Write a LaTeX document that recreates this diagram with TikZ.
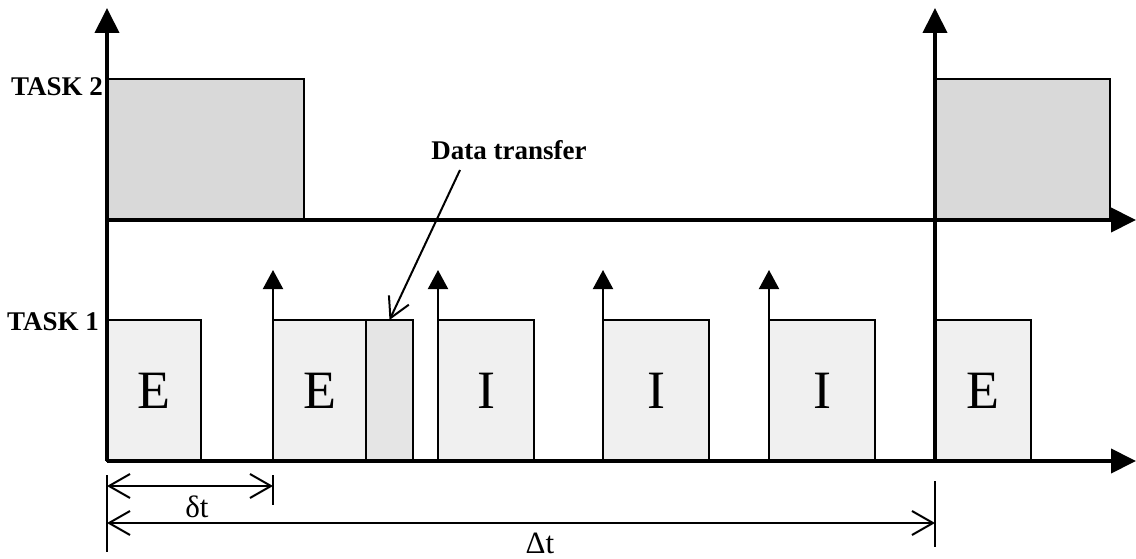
\documentclass[tikz,border=0pt]{standalone}
\usepackage{fontspec}
\setmainfont{Liberation Serif}
\usetikzlibrary{arrows.meta,positioning}
\definecolor{slotfill}{gray}{0.94}
\definecolor{xferfill}{gray}{0.90}
\definecolor{busyfill}{gray}{0.85}
\tikzset{axis/.style={line width=4pt,-{Triangle[width=24pt,length=25pt]}},
  pulse/.style={line width=2pt,-{Triangle[width=20pt,length=19pt]}},
  slot/.style={draw,line width=2pt,fill=slotfill,inner sep=0pt,outer sep=0pt,minimum height=141pt,font=\fontsize{54}{60}\selectfont},
  xfer/.style={slot,fill=xferfill},
  busy/.style={slot,fill=busyfill},
  dim/.style={line width=2pt,{Straight Barb[length=21pt,width=24pt]}-{Straight Barb[length=21pt,width=24pt]}},
  tick/.style={line width=2pt},
  tag/.style={inner sep=0pt,font=\bfseries\fontsize{27}{30}\selectfont},
  dimlabel/.style={inner sep=0pt,font=\fontsize{31}{34}\selectfont}}

\begin{document}
\begin{tikzpicture}[x=1pt,y=-1pt]
    \useasboundingbox (0,0) rectangle (1136,559);

    % task 2 slots
    \node[busy,minimum width=197pt] (b1) at (205.5,149.5) {};
    \node[busy,minimum width=175pt] (b2) at (1022.5,149.5) {};

    % task 1 slots
    \node[slot,minimum width=94pt] (e1) at (154,390.5) {E};
    \node[slot,minimum width=93pt] (e2) at (319.5,390.5) {E};
    \node[xfer,minimum width=47pt] (dt) at (389.5,390.5) {};
    \node[slot,minimum width=96pt] (i1) at (486,390.5) {I};
    \node[slot,minimum width=106pt] (i2) at (656,390.5) {I};
    \node[slot,minimum width=106pt] (i3) at (822,390.5) {I};
    \node[slot,minimum width=96pt] (e3) at (983,390.5) {E};

    % axes
    \coordinate (o1) at (107,461);
    \coordinate (o2) at (935,461);
    \coordinate (y1) at (107,8);
    \coordinate (y2) at (935,8);
    \coordinate (m0) at (107,220);
    \coordinate (m1) at (1136,220);
    \coordinate (x1) at (1136,461);
    \draw[axis] (o1) -- (x1);
    \draw[axis] (m0) -- (m1);
    \draw[axis] (o1) -- (y1);
    \draw[axis] (o2) -- (y2);

    % labels
    \node[tag,anchor=east] (t2) at (103,87) {TASK 2};
    \node[tag,anchor=east] (t1) at (99,322) {TASK 1};
    \node[tag] (lbl) at (509,150) {Data transfer};

    % pulses
    \coordinate (p1) at (273,270);
    \coordinate (p2) at (438,270);
    \coordinate (p3) at (603,270);
    \coordinate (p4) at (769,270);
    \draw[pulse] (e2.north west) -- (p1);
    \draw[pulse] (i1.north west) -- (p2);
    \draw[pulse] (i2.north west) -- (p3);
    \draw[pulse] (i3.north west) -- (p4);

    \coordinate (ds) at (460,170);
    \draw[line width=2pt,-{Straight Barb[length=20pt,width=22pt]}] (ds) -- (dt.north);

    % time spans
    \coordinate (k1a) at (107,475);
    \coordinate (k1b) at (107,552);
    \coordinate (k2a) at (273,475);
    \coordinate (k2b) at (273,505);
    \coordinate (k3a) at (935,481);
    \coordinate (k3b) at (935,547);
    \draw[tick] (k1a) -- (k1b);
    \draw[tick] (k2a) -- (k2b);
    \draw[tick] (k3a) -- (k3b);
    \coordinate (d1a) at (107,486);
    \coordinate (d1b) at (273,486);
    \coordinate (d2a) at (107,523);
    \coordinate (d2b) at (935,523);
    \draw[dim] (d1a) -- (d1b);
    \draw[dim] (d2a) -- (d2b);
    \node[dimlabel] (dl) at (197,507) {δt};
    \node[dimlabel] (Dl) at (540,543) {Δt};
\end{tikzpicture}
\end{document}
